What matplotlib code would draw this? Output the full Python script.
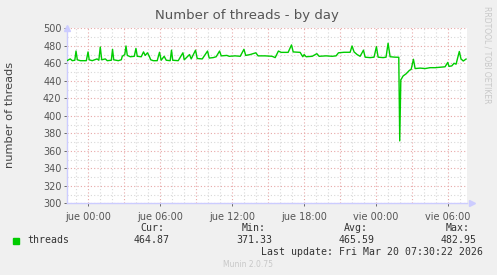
import numpy as np
import matplotlib
matplotlib.use('Agg')
import matplotlib.pyplot as plt

# hours relative to jue 00:00
hours = [-1.73, -1.46, -1.29, -1.08, -0.98, -0.87, -0.62, -0.12, 0.02, 0.12,
         0.37, 0.77, 0.92, 1.04, 1.16, 1.46, 1.62, 1.96, 2.06, 2.16,
         2.54, 2.79, 2.87, 3.08, 3.18, 3.29, 3.54, 3.87, 4.01, 4.12,
         4.45, 4.64, 4.78, 4.97, 5.12, 5.24, 5.45, 5.78, 5.97, 6.11,
         6.36, 6.53, 6.86, 6.97, 7.07, 7.53, 7.92, 8.03, 8.47, 8.61,
         8.97, 9.11, 9.53, 9.97, 10.11, 10.44, 10.69, 10.97, 11.11, 11.58,
         11.77, 12.27, 12.69, 13.0, 13.15, 13.52, 13.99, 14.18, 14.77, 15.35,
         15.6, 15.87, 16.1, 16.68, 16.96, 17.1, 17.68, 17.9, 18.01, 18.18,
         18.68, 19.07, 19.26, 19.84, 20.34, 20.67, 20.87, 21.34, 21.84, 22.0,
         22.17, 22.42, 22.67, 22.95, 23.09, 23.5, 23.83, 24.03, 24.17, 24.59,
         24.83, 25.0, 25.17, 25.58, 25.89, 25.97, 26.06, 26.25, 26.5, 26.78,
         26.92, 27.11, 27.25, 27.67, 28.09, 28.5, 28.92, 29.33, 29.74, 29.97,
         30.07, 30.3, 30.49, 30.66, 30.93, 31.07, 31.26, 31.49]
threads = [463, 465, 463, 463.5, 474, 464, 463, 463, 473, 464,
           463, 465, 463.5, 478.6, 464, 465, 463, 463.5, 476, 464,
           463, 464, 468, 470, 479.8, 469, 467.5, 468, 477, 468,
           467.5, 473, 469, 472, 468, 464, 463, 463, 472.6, 463.5,
           468, 463.5, 463, 475, 463.5, 463, 472, 464, 470, 465,
           475, 465.5, 465, 474, 466, 466.5, 467.5, 474, 468.5, 469,
           468, 468.5, 468, 476, 469, 470, 472, 468.5, 468.5, 468,
           466.5, 474, 472.5, 472.5, 481, 473, 472.5, 467.5, 470, 467.5,
           468, 471, 468, 468.5, 468, 468.5, 472, 472.6, 472.6, 479.8,
           473, 470, 468, 475, 467, 466.5, 467, 479, 467, 466.5,
           467, 482.95, 467.5, 467, 466.9, 371.33, 441, 445.5, 448, 452,
           453, 464.6, 454, 454.5, 454, 455, 455, 455.5, 456, 461,
           456.5, 457, 460, 459, 473.5, 465, 462.6, 464.87]

x_ticks = [0, 6, 12, 18, 24, 30]
x_labels = ['jue 00:00', 'jue 06:00', 'jue 12:00', 'jue 18:00', 'vie 00:00', 'vie 06:00']
y_ticks = [300, 320, 340, 360, 380, 400, 420, 440, 460, 480, 500]

stat_names = ['Cur:', 'Min:', 'Avg:', 'Max:']
stat_values = ['464.87', '371.33', '465.59', '482.95']

W, H = 497, 275
fig = plt.figure(figsize=(W / 100, H / 100), dpi=100)
fig.patch.set_facecolor('#F0F0F0')

ax = fig.add_axes([67 / W, 1 - 203.3 / H, 400 / W, 175 / H])
ax.set_facecolor('white')
ax.set_xlim(-1.73, 31.57)
ax.set_ylim(300, 500)

# grid: gray minor, red major
for h in np.arange(-1, 32, 1):
    c = '#E8A8A8' if h % 3 == 0 else '#D8D8D8'
    ax.axvline(h, color=c, lw=0.8, ls=(0, (1, 2)), zorder=1)
for v in np.arange(300, 501, 10):
    c = '#E8A8A8' if v % 20 == 0 else '#D8D8D8'
    ax.axhline(v, color=c, lw=0.8, ls=(0, (1, 2)), zorder=1)

ax.plot(hours, threads, color='#00CC00', lw=1.0, zorder=3)

for s in ['top', 'right']:
    ax.spines[s].set_visible(False)
for s in ['left', 'bottom']:
    ax.spines[s].set_color('#CCCCFF')
    ax.spines[s].set_linewidth(1.0)

ax.set_xticks(x_ticks)
ax.set_xticklabels(x_labels)
ax.set_yticks(y_ticks)
ax.tick_params(axis='both', labelsize=7, colors='#555555', length=2, width=0.6, pad=2)
ax.tick_params(axis='x', pad=4)

# axis arrows
ax.plot([0], [1.0], marker='^', ms=5, color='#CCCCFF', transform=ax.transAxes,
        clip_on=False, zorder=4)
ax.plot([1.012], [0], marker='>', ms=5, color='#CCCCFF', transform=ax.transAxes,
        clip_on=False, zorder=4)

fig.text(10.5 / W, 1 - 115 / H, 'number of threads', rotation=90, ha='center', va='center',
         fontsize=8.2, color='#444444')

fig.text(247 / W, 1 - 16 / H, 'Number of threads - by day', ha='center', va='center',
         fontsize=9.5, color='#555555')
fig.text(487 / W, 1 - 6 / H, 'RRDTOOL / TOBI OETIKER', rotation=270, ha='center', va='top',
         fontsize=5.5, color='#C8C8C8')

# legend block
mono = 'DejaVu Sans Mono'
fig.patches.append(plt.Rectangle((13 / W, 1 - 244 / H), 6 / W, 6 / H, color='#00CC00',
                                 transform=fig.transFigure))
fig.text(27 / W, 1 - 240 / H, 'threads', family=mono, fontsize=7.1, color='#333333',
         ha='left', va='center')
name_x = [164, 266, 368, 470]
val_x = [170, 272.3, 374.3, 476.7]
for n, v, nx, vx in zip(stat_names, stat_values, name_x, val_x):
    fig.text(nx / W, 1 - 228 / H, n, family=mono, fontsize=7.1, color='#333333',
             ha='right', va='center')
    fig.text(vx / W, 1 - 240 / H, v, family=mono, fontsize=7.1, color='#333333',
             ha='right', va='center')
fig.text(482.7 / W, 1 - 252 / H, 'Last update: Fri Mar 20 07:30:22 2026', family=mono,
         fontsize=7.1, color='#333333', ha='right', va='center')
fig.text(248 / W, 1 - 264.5 / H, 'Munin 2.0.75', fontsize=5.5, color='#C8C8C8',
         ha='center', va='center')

fig.savefig('out.png', dpi=100, facecolor=fig.get_facecolor())
